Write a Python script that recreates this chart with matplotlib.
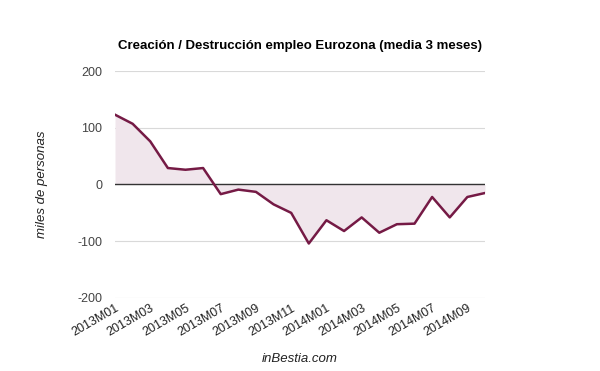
import numpy as np
import matplotlib.pyplot as plt

plt.rcParams['font.family'] = ['Liberation Sans', 'DejaVu Sans']
plt.rcParams['axes.unicode_minus'] = False

# datos: creación/destrucción de empleo, media 3 meses (miles de personas)
meses = ['2013M01', '2013M02', '2013M03', '2013M04', '2013M05', '2013M06',
         '2013M07', '2013M08', '2013M09', '2013M10', '2013M11', '2013M12',
         '2014M01', '2014M02', '2014M03', '2014M04', '2014M05', '2014M06',
         '2014M07', '2014M08', '2014M09', '2014M10']
valores = [123, 107, 76, 29, 26, 29, -17, -9, -13, -35, -50, -104,
           -63, -82, -58, -85, -70, -69, -22, -58, -22, -15]
yticks = [-200, -100, 0, 100, 200]

line_color = '#751a45'
fill_color = '#f0e6ec'

fig = plt.figure(figsize=(6, 3.71), dpi=100)
ax = fig.add_axes([0.1917, 0.1968, 0.6166, 0.6118])

x = np.arange(len(valores))
ax.fill_between(x, valores, 0, color=fill_color, lw=0)
ax.plot(x, valores, color=line_color, lw=1.8, zorder=3)

ax.set_xlim(0, len(valores) - 1)
ax.set_ylim(-200, 200)
ax.set_yticks(yticks)
ax.yaxis.grid(True, color='#d9d9d9', lw=0.8)
ax.axhline(0, color='#333333', lw=1, zorder=2)
ax.set_axisbelow(True)
for s in ax.spines.values():
    s.set_visible(False)
ax.tick_params(length=0)
ax.tick_params(axis='y', labelsize=9, colors='#444444', pad=9)

ax.set_xticks(x[::2])
ax.set_xticklabels(meses[::2], rotation=30, ha='right', rotation_mode='anchor',
                   fontsize=9, color='#222222')
ax.tick_params(axis='x', pad=3)

ax.set_ylabel('miles de personas', style='italic', fontsize=9.5, color='#222222',
              labelpad=21)
ax.set_xlabel('inBestia.com', style='italic', fontsize=9.5, color='#222222',
              labelpad=10)
fig.text(0.5, 0.877, 'Creación / Destrucción empleo Eurozona (media 3 meses)',
         ha='center', va='center', fontsize=9.5, fontweight='bold', color='#000000')

fig.savefig('out.png', dpi=100)
